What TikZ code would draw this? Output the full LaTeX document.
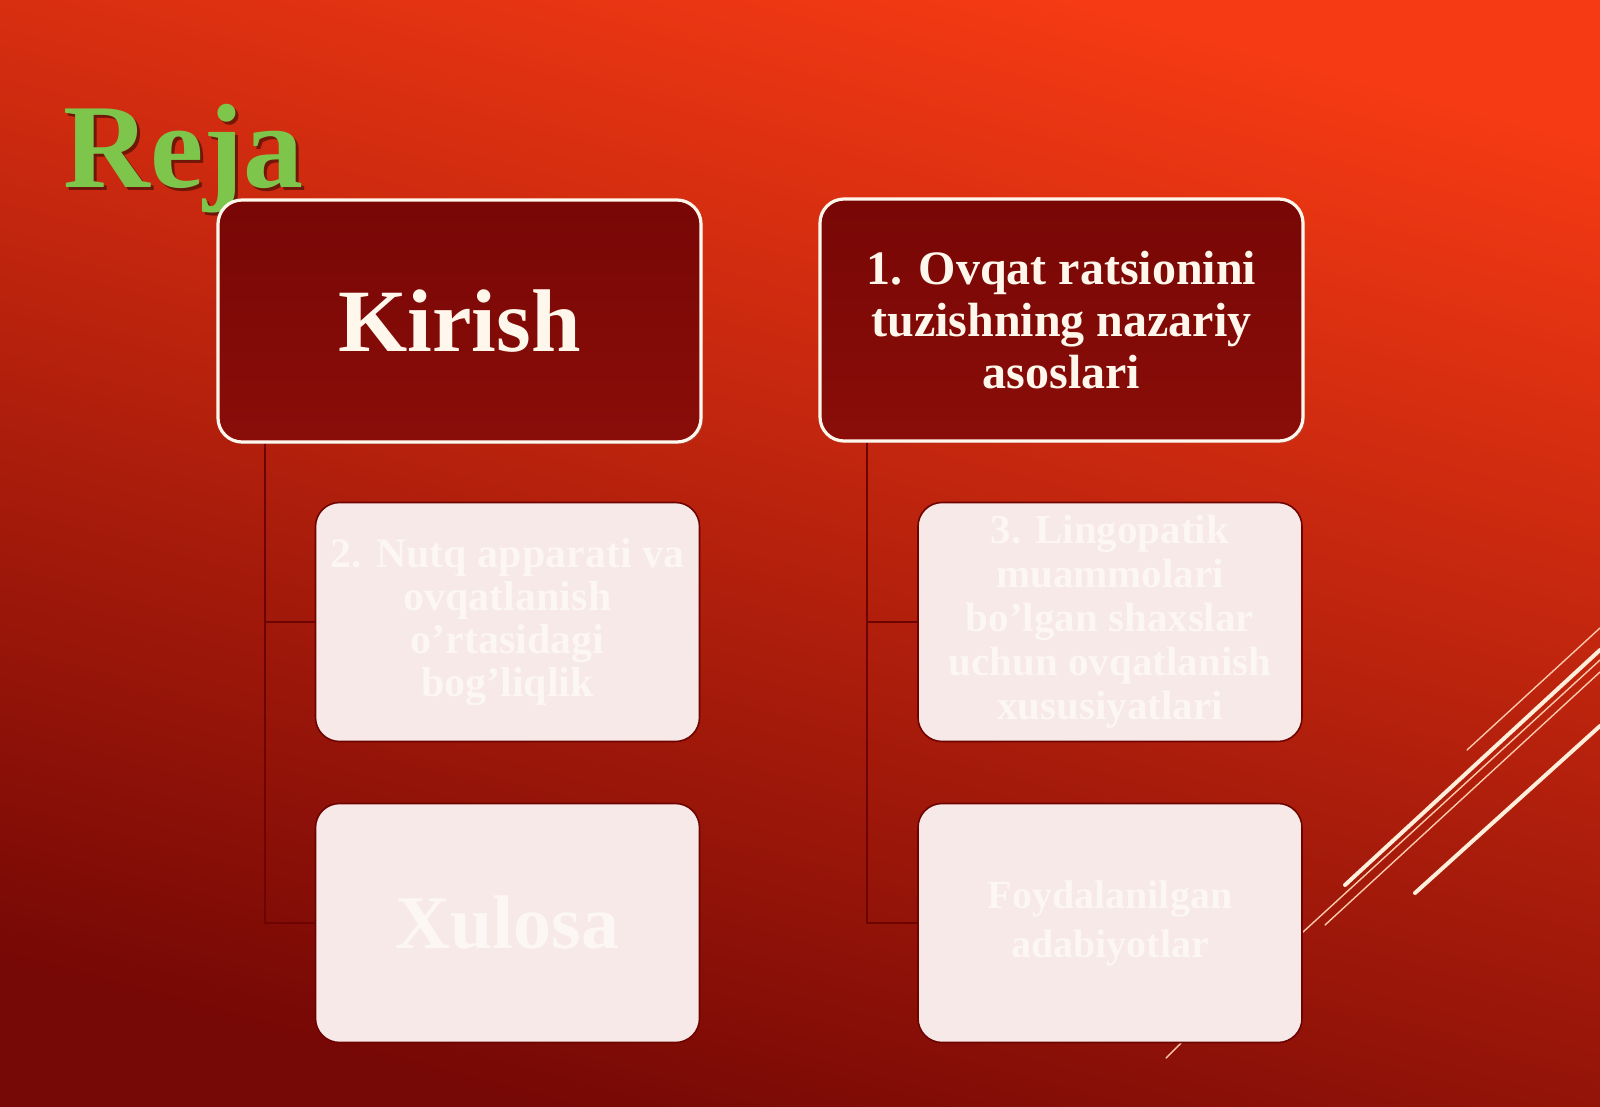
\documentclass[tikz,border=0pt]{standalone}
\usepackage{fontspec}
\setmainfont{Liberation Serif}
\usetikzlibrary{calc,shadows}
\definecolor{bgtop}{RGB}{245,58,20}
\definecolor{bgmid}{RGB}{202,36,13}
\definecolor{bgbot}{RGB}{118,8,5}
\definecolor{darkbox}{RGB}{120,7,5}
\definecolor{darkbox2}{RGB}{138,13,9}
\definecolor{cream}{RGB}{255,247,236}
\definecolor{lightbox}{RGB}{246,233,231}
\definecolor{lighttext}{RGB}{252,246,245}
\definecolor{conncol}{RGB}{110,4,2}
\definecolor{rejagreen}{RGB}{125,198,75}
\definecolor{streak}{RGB}{255,238,218}
\definecolor{streakthin}{RGB}{255,200,170}
\begin{document}
\begin{tikzpicture}[x=0.5pt,y=-0.5pt,
  topbox/.style={draw=cream, line width=1.6pt, rounded corners=12pt,
    top color=darkbox, bottom color=darkbox2,
    drop shadow={opacity=0.3, shadow xshift=1pt, shadow yshift=-1pt},
    minimum width=241.5pt, minimum height=121pt, text=cream,
    align=center, inner sep=0pt},
  subbox/.style={draw=conncol, line width=0.8pt, fill=lightbox, rounded corners=12pt,
    minimum width=192pt, minimum height=119.5pt, text=lighttext,
    align=center, inner sep=0pt},
  conn/.style={draw=conncol, line width=1pt},
  thick streak/.style={draw=streak, line width=2pt, line cap=round},
  thin streak/.style={draw=streakthin, line width=0.7pt, line cap=round}
]
\useasboundingbox (0,0) rectangle (1600,1107);
\shade[top color=bgtop, middle color=bgmid, bottom color=bgbot, shading angle=-15]
  (0,0) rectangle (1600,1107);

% decorative streaks
\draw[thin streak] (1467,750) -- (1600,628);
\draw[thick streak] (1345,885) -- (1600,650);
\draw[thin streak] (1303,932) -- (1600,660);
\draw[thin streak] (1325,925) -- (1600,672);
\draw[thick streak] (1415,893) -- (1600,726);
\draw[thin streak] (1166,1058) -- (1181,1043);

% title
\node[font=\bfseries\fontsize{60}{60}\selectfont, text=black, opacity=0.45,
  anchor=base west, inner sep=0pt] (rejashadow) at (66,191) {Reja};
\node[font=\bfseries\fontsize{60}{60}\selectfont, text=rejagreen,
  anchor=base west, inner sep=0pt] (reja) at (63,188) {Reja};

% top boxes
\node[topbox, font=\bfseries\fontsize{44.5}{50}\selectfont] (kirish) at (459.5,321) {Kirish};
\node[topbox, font=\bfseries\fontsize{24}{26}\selectfont] (nazariy) at (1061.5,320)
  {1. Ovqat ratsionini\\tuzishning nazariy\\asoslari};

% sub boxes
\node[subbox, font=\bfseries\fontsize{21}{21.5}\selectfont] (nutq) at (507.5,622)
  {2. Nutq apparati va\\ovqatlanish\\o'rtasidagi\\bog'liqlik};
\node[subbox, font=\bfseries\fontsize{38}{40}\selectfont] (xulosa) at (507.5,923) {Xulosa};
\node[subbox, font=\bfseries\fontsize{20.5}{22}\selectfont] (lingo) at (1110,622)
  {3. Lingopatik\\muammolari\\bo'lgan shaxslar\\uchun ovqatlanish\\xususiyatlari};
\node[subbox, font=\bfseries\fontsize{20}{24.5}\selectfont] (adab) at (1110,923)
  {Foydalanilgan\\adabiyotlar};

% connectors
\coordinate (kl) at ($(kirish.south west)+(49,0)$);
\coordinate (nl) at ($(nazariy.south west)+(49,0)$);
\draw[conn] (kl) |- (nutq.west);
\draw[conn] (kl) |- (xulosa.west);
\draw[conn] (nl) |- (lingo.west);
\draw[conn] (nl) |- (adab.west);
\end{tikzpicture}
\end{document}
